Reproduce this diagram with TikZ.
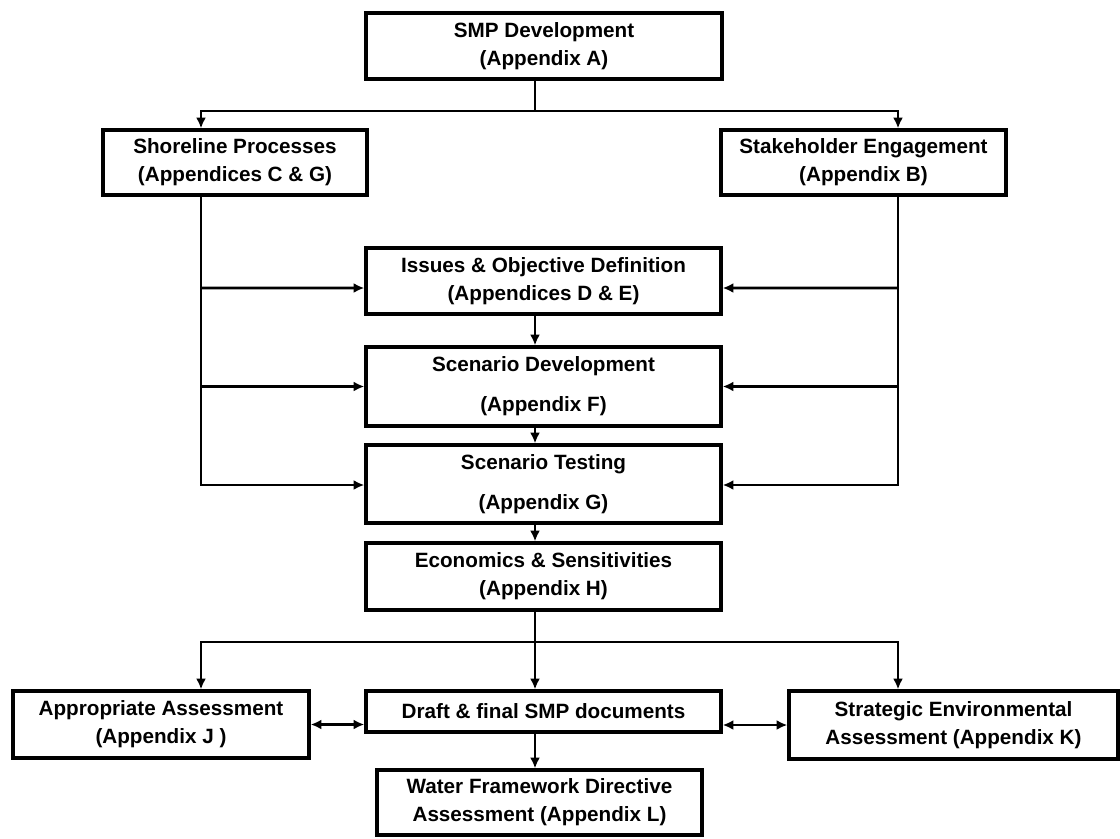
\documentclass[tikz,border=0pt]{standalone}
\usepackage{fontspec}
\setmainfont{Liberation Sans}
\usetikzlibrary{arrows.meta}

\begin{document}
\begin{tikzpicture}[x=0.025cm,y=-0.025cm,
    box/.style={draw,line width=2.3pt,align=center,inner sep=0pt,
      font=\bfseries\fontsize{14.7}{19.9}\selectfont},
    wire/.style={line width=1.9pt},
    arrow/.style={wire,-{Latex[length=0.27cm,width=0.25cm]}},
    twoway/.style={wire,{Latex[length=0.27cm,width=0.25cm]}-{Latex[length=0.27cm,width=0.25cm]}}]
    \useasboundingbox (0,0) rectangle (1120,838);
    % Guias
    \coordinate (spine) at (535,0);
    \coordinate (lbus) at (201,0);
    \coordinate (rbus) at (898,0);
    \coordinate (topbar) at (0,111);
    \coordinate (botbar) at (0,642);
    % Caixas do topo
    \node[box,minimum width=8.9cm,minimum height=1.65cm] (smp) at (544,46)
        {SMP Development\\(Appendix A)};
    \node[box,minimum width=6.6cm,minimum height=1.625cm] (shore) at (235,162.5)
        {Shoreline Processes\\(Appendices C \& G)};
    \node[box,minimum width=7.125cm,minimum height=1.625cm] (stake) at (863.5,162.5)
        {Stakeholder Engagement\\(Appendix B)};
    % Coluna central
    \node[box,minimum width=8.875cm,minimum height=1.65cm] (issues) at (543.5,281)
        {Issues \& Objective Definition\\(Appendices D \& E)};
    \node[box,minimum width=8.875cm,minimum height=1.975cm] (dev) at (543.5,386.5)
        {Scenario Development\\[0.3cm](Appendix F)};
    \node[box,minimum width=8.875cm,minimum height=1.95cm] (test) at (543.5,484)
        {Scenario Testing\\[0.3cm](Appendix G)};
    \node[box,minimum width=8.875cm,minimum height=1.675cm] (econ) at (543.5,576.5)
        {Economics \& Sensitivities\\(Appendix H)};
    % Linha de baixo
    \node[box,minimum width=7.4cm,minimum height=1.675cm] (appr) at (161,724.5)
        {Appropriate Assessment\\(Appendix J )};
    \node[box,minimum width=8.875cm,minimum height=1.025cm] (draft) at (543.5,711.5)
        {Draft \& final SMP documents};
    \node[box,minimum width=8.225cm,minimum height=1.7cm] (strat) at (953.5,725)
        {Strategic Environmental\\Assessment (Appendix K)};
    \node[box,minimum width=8.125cm,minimum height=1.625cm] (wfd) at (539.5,802.5)
        {Water Framework Directive\\Assessment (Appendix L)};
    % Ramos do topo
    \draw[arrow] (smp.south -| spine) -- (spine |- topbar) -| (shore.north -| lbus);
    \draw[arrow] (spine |- topbar) -| (stake.north -| rbus);
    % Barramentos laterais
    \draw[arrow] (shore.south -| lbus) |- ([yshift=-0.025cm]test.west);
    \draw[arrow] (lbus |- issues.west) ++(0,7) -- ([yshift=-0.175cm]issues.west);
    \draw[arrow] (lbus |- dev.west) -- (dev.west);
    \draw[arrow] (stake.south -| rbus) |- ([yshift=-0.025cm]test.east);
    \draw[arrow] (rbus |- issues.east) ++(0,7) -- ([yshift=-0.175cm]issues.east);
    \draw[arrow] (rbus |- dev.east) -- (dev.east);
    % Sequencia central
    \draw[arrow] (issues.south -| spine) -- (dev.north -| spine);
    \draw[arrow] (dev.south -| spine) -- (test.north -| spine);
    \draw[arrow] (test.south -| spine) -- (econ.north -| spine);
    % Ramos de baixo
    \draw[arrow] (econ.south -| spine) -- (draft.north -| spine);
    \draw[arrow] (spine |- botbar) -| (appr.north -| lbus);
    \draw[arrow] (spine |- botbar) -| (strat.north -| rbus);
    \draw[twoway] (appr.east) -- (appr.east -| draft.west);
    \draw[twoway] (draft.east |- strat.west) -- (strat.west);
    \draw[arrow] (draft.south -| spine) -- (wfd.north -| spine);
\end{tikzpicture}
\end{document}
